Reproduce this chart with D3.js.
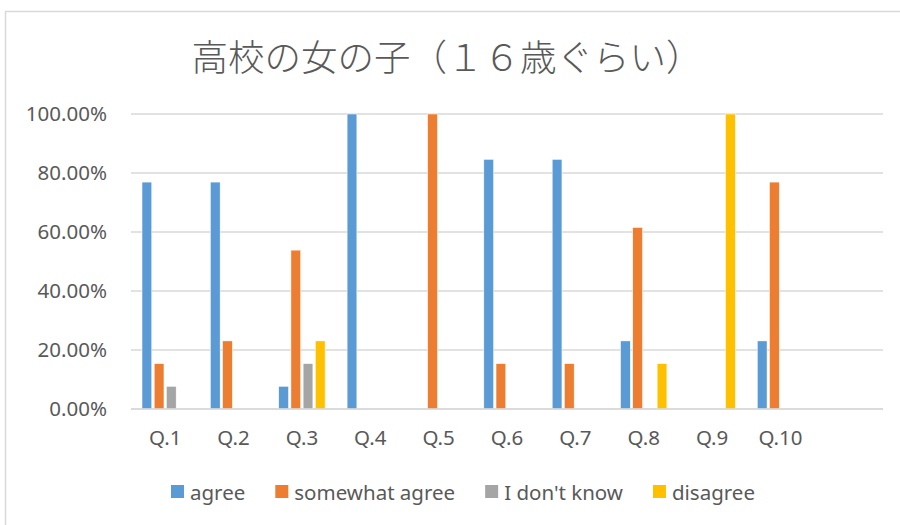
<!DOCTYPE html>
<html>
<head>
<meta charset="utf-8">
<script src="https://cdn.jsdelivr.net/npm/d3@7"></script>
<style>
  body { margin: 0; background: #fff; }
  svg { display: block; }
</style>
</head>
<body>
<script>
const title = "高校の女の子（１６歳ぐらい）"
const categories = ["Q.1", "Q.2", "Q.3", "Q.4", "Q.5", "Q.6", "Q.7", "Q.8", "Q.9", "Q.10"]
const series = ["agree", "somewhat agree", "I don't know", "disagree"]
const colors = ["#5B9BD5", "#ED7D31", "#A5A5A5", "#FFC000"]
// percent per question, one array per series
const agree    = [76.92, 76.92, 7.69, 100, 0, 84.62, 84.62, 23.08, 0, 23.08]
const somewhat = [15.38, 23.08, 53.85, 0, 100, 15.38, 15.38, 61.54, 0, 76.92]
const dontKnow = [7.69, 0, 15.38, 0, 0, 0, 0, 0, 0, 0]
const disagree = [0, 0, 23.08, 0, 0, 0, 0, 15.38, 100, 0]
const yTicks = [0, 20, 40, 60, 80, 100]

const values = [agree, somewhat, dontKnow, disagree]
const W = 900, H = 525
const m = { left: 131, right: 883, top: 114, bottom: 409 }
const font = "'Noto Sans', sans-serif"
const fs = 20.5

const svg = d3.select("body").append("svg")
  .attr("width", W)
  .attr("height", H)

// chart area border (runs off the page on the right and bottom)
svg.append("rect")
  .attr("x", 5.5).attr("y", 11.5)
  .attr("width", 1000).attr("height", 1000)
  .attr("fill", "#fff")
  .attr("stroke", "#D9D9D9")
  .attr("stroke-width", 1.5)

svg.append("text")
  .attr("x", 447).attr("y", 55)
  .attr("text-anchor", "middle")
  .attr("dominant-baseline", "central")
  .attr("font-family", "'Noto Sans CJK JP'")
  .attr("font-weight", 300)
  .attr("font-size", 36.5)
  .attr("fill", "#595959")
  .text(title)

// one empty slot after Q.10, as in the original
const x = d3.scaleBand()
  .domain([...categories, ""])
  .range([m.left, m.right])
  .paddingInner(0.2865)
  .paddingOuter(0.2865 / 2)

const x1 = d3.scaleBand()
  .domain(series)
  .range([0, x.bandwidth()])
  .paddingInner(0.2)
  .paddingOuter(0.1)

const y = d3.scaleLinear()
  .domain([0, 100])
  .range([m.bottom, m.top])

const grid = svg.append("g")
grid.selectAll("line")
  .data(yTicks)
  .join("line")
  .attr("x1", m.left).attr("x2", m.right)
  .attr("y1", d => y(d)).attr("y2", d => y(d))
  .attr("stroke", "#D9D9D9")
  .attr("stroke-width", 1.3)

const yAxis = svg.append("g")
  .attr("transform", `translate(${m.left - 24},0)`)
  .call(d3.axisLeft(y).tickValues(yTicks).tickSize(0).tickFormat(d => d.toFixed(2) + "%"))
yAxis.select(".domain").remove()
yAxis.selectAll("text")
  .attr("x", 0)
  .attr("font-family", font)
  .attr("font-size", fs)
  .attr("fill", "#595959")

const xAxis = svg.append("g")
  .attr("transform", `translate(0,${m.bottom})`)
  .call(d3.axisBottom(x).tickSize(0).tickPadding(21))
xAxis.select(".domain").remove()
xAxis.selectAll("text")
  .attr("font-family", font)
  .attr("font-size", fs)
  .attr("fill", "#595959")

const groups = svg.append("g")
  .selectAll("g")
  .data(categories)
  .join("g")
  .attr("transform", d => `translate(${x(d)},0)`)

groups.selectAll("rect")
  .data((d, i) => series.map((s, k) => ({ s: s, k: k, v: values[k][i] })))
  .join("rect")
  .filter(d => d.v > 0)
  .attr("x", d => x1(d.s))
  .attr("width", x1.bandwidth())
  .attr("y", d => y(d.v))
  .attr("height", d => y(0) - y(d.v))
  .attr("fill", d => colors[d.k])
  .attr("stroke", "#fff")
  .attr("stroke-width", 0.5)

// baseline
svg.append("line")
  .attr("x1", m.left).attr("x2", m.right)
  .attr("y1", y(0)).attr("y2", y(0))
  .attr("stroke", "#D9D9D9")
  .attr("stroke-width", 1.5)

// legend, centred
const legend = svg.append("g")
const items = legend.selectAll("g")
  .data(series)
  .join("g")
items.append("rect")
  .attr("width", 13).attr("height", 13)
  .attr("y", -7)
  .attr("fill", (d, i) => colors[i])
items.append("text")
  .attr("x", 19)
  .attr("dominant-baseline", "central")
  .attr("font-family", font)
  .attr("font-size", fs)
  .attr("fill", "#595959")
  .text(d => d)

let cx = 0
items.each(function () {
  const g = d3.select(this)
  const w = 19 + g.select("text").node().getComputedTextLength()
  g.attr("transform", `translate(${cx},0)`)
  cx += w + 30
})
const total = cx - 30
legend.attr("transform", `translate(${463 - total / 2},492)`)
</script>
</body>
</html>
